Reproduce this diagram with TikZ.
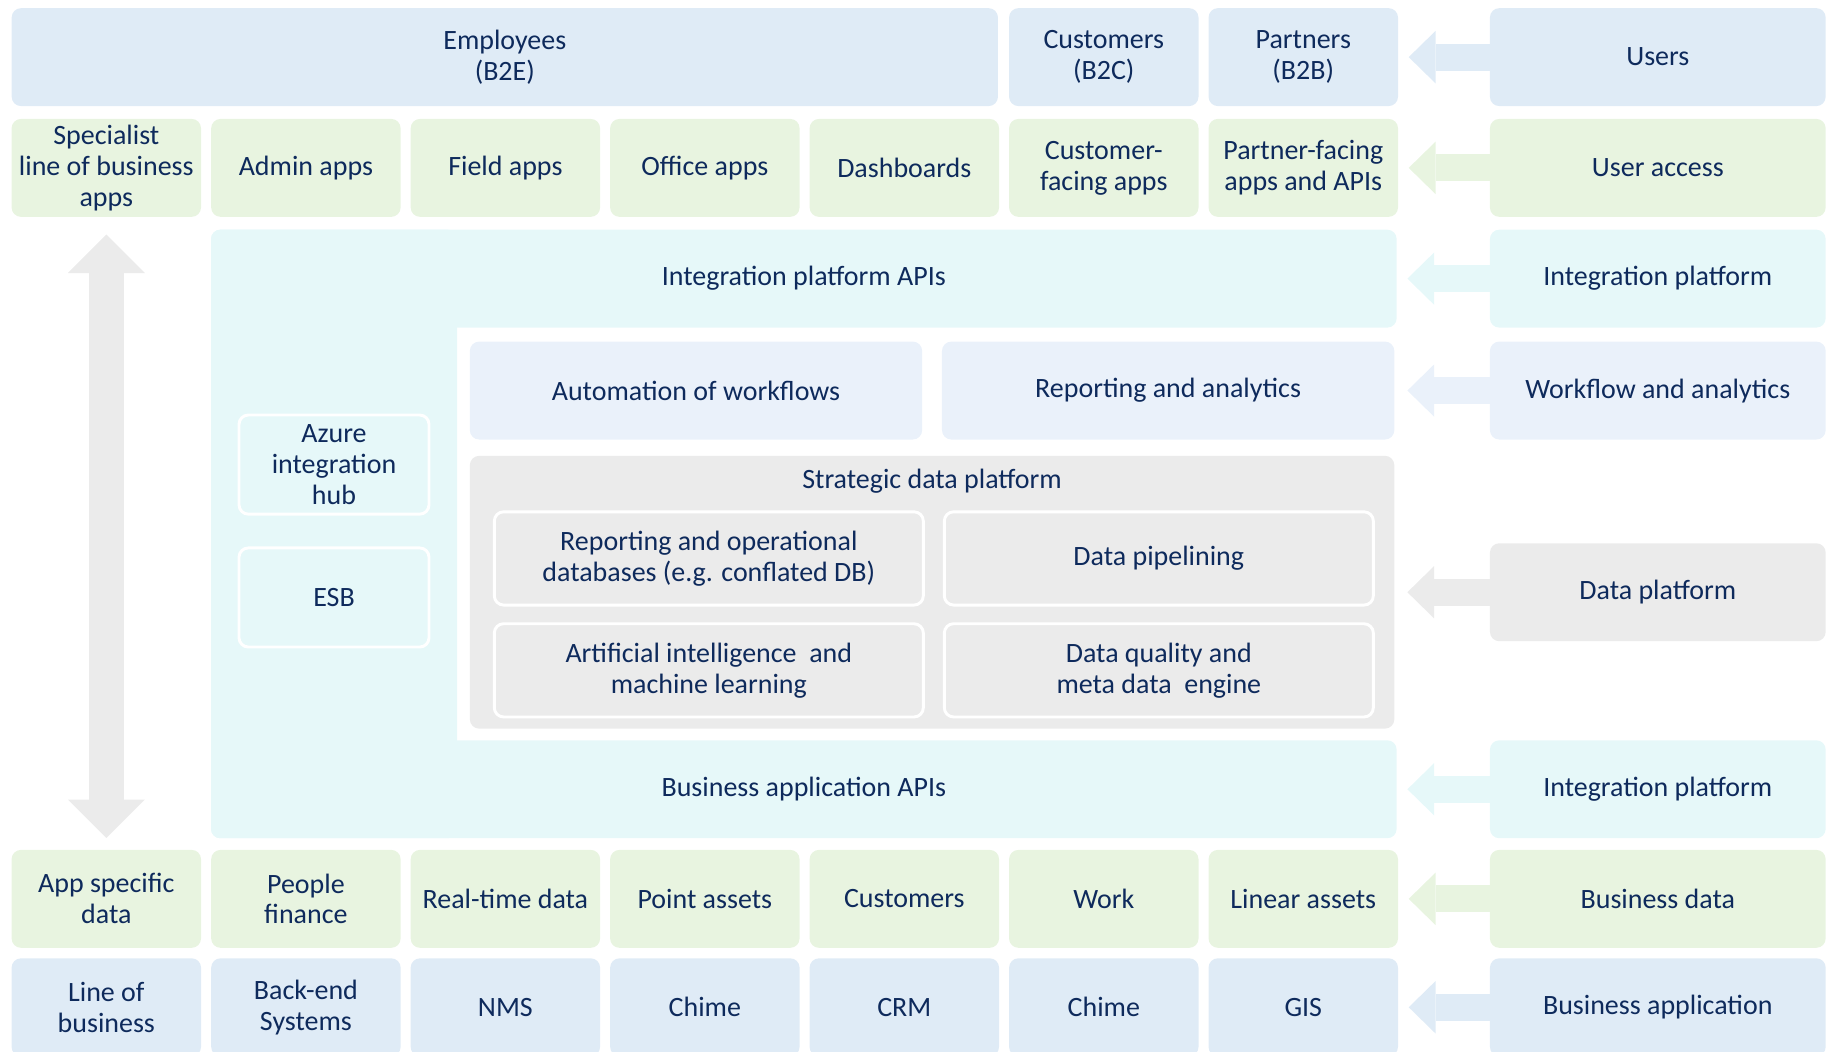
\documentclass[tikz,border=0pt]{standalone}
\usepackage{fontspec}
\setmainfont{Carlito}
\usepackage{tikz}
\usetikzlibrary{arrows.meta}

\definecolor{usrblue}{HTML}{DFEBF6}
\definecolor{accgreen}{HTML}{E8F4E0}
\definecolor{intcyan}{HTML}{E6F8F9}
\definecolor{wfblue}{HTML}{EAF1FA}
\definecolor{dpgrey}{HTML}{EBEBEB}
\definecolor{txtnavy}{HTML}{0E2A5C}

\tikzset{
  box/.style={rectangle, rounded corners=8pt, inner sep=0pt, align=center,
              text=txtnavy, font=\fontsize{24}{26.5}\selectfont},
  cell/.style={box, minimum width=162.5pt, minimum height=84pt},
  side/.style={box, minimum width=288pt, minimum height=84pt},
  inbox/.style={box, draw=white, line width=2.5pt},
}

\begin{document}
\begin{tikzpicture}[x=1pt,y=-1pt]
\useasboundingbox (0,0) rectangle (1568,902);
\clip (0,0) rectangle (1568,902);

% users
\begin{scope}[every node/.style={cell,fill=usrblue}]
    \node[minimum width=846pt] (emp) at (433,49) {Employees\\(B2E)};
    \node (cus) at (946.8,49) {Customers\\(B2C)};
    \node (prt) at (1117.9,49) {Partners\\(B2B)};
\end{scope}

% user access
\begin{scope}[every node/.style={cell,fill=accgreen}]
    \node (spec) at (91.2,144) {Specialist\\line of business\\apps};
    \node (admin) at (262.4,144) {Admin apps};
    \node (field) at (433.5,144) {Field apps};
    \node (office) at (604.6,144) {Office apps};
    \node (dash) at (775.7,144) {Dashboards};
    \node (cusapp) at (946.8,144) {Customer-\\facing apps};
    \node (prtapp) at (1117.9,144) {Partner-facing\\apps and APIs};
\end{scope}

% integration platform
\fill[intcyan,rounded corners=8pt] (181,197) rectangle (392,719);
\begin{scope}[every node/.style={box,fill=intcyan,minimum width=1017pt,minimum height=84pt}]
    \node (intapi) at (689.5,239) {Integration platform APIs};
    \node (bizapi) at (689.5,677) {Business application APIs};
\end{scope}
\begin{scope}[every node/.style={inbox,fill=intcyan,minimum width=163pt,minimum height=85pt}]
    \node (azure) at (286.5,398.5) {Azure\\integration\\hub};
    \node (esb) at (286.5,512.5) {ESB};
\end{scope}

% workflow and analytics
\begin{scope}[every node/.style={box,fill=wfblue,minimum width=388pt,minimum height=84pt}]
    \node (auto) at (597,335) {Automation of workflows};
    \node (rep) at (1002,335) {Reporting and analytics};
\end{scope}

% data platform
\node[box,fill=dpgrey,minimum width=793pt,minimum height=234pt] (sdp) at (799.5,508) {};
\node[box] (sdptitle) at (799.5,413) {Strategic data platform};
\begin{scope}[every node/.style={inbox,fill=dpgrey,minimum width=368pt,minimum height=80pt}]
    \node (repdb) at (608,479) {Reporting and operational\\databases (e.g. conflated DB)};
    \node (pipe) at (994,479) {Data pipelining};
    \node (aiml) at (608,575) {Artificial intelligence~ and\\machine learning};
    \node (dq) at (994,575) {Data quality and\\meta data~ engine};
\end{scope}

% business data
\begin{scope}[every node/.style={cell,fill=accgreen}]
    \node (appdata) at (91.2,771) {App specific\\data};
    \node (people) at (262.4,771) {People\\finance};
    \node (rtdata) at (433.5,771) {Real-time data};
    \node (point) at (604.6,771) {Point assets};
    \node (cusdata) at (775.7,771) {Customers};
    \node (work) at (946.8,771) {Work};
    \node (linear) at (1117.9,771) {Linear assets};
\end{scope}

% business applications
\begin{scope}[every node/.style={cell,fill=usrblue}]
    \node (lob) at (91.2,864) {Line of\\business};
    \node (backend) at (262.4,864) {Back-end\\Systems};
    \node (nms) at (433.5,864) {NMS};
    \node (chime) at (604.6,864) {Chime};
    \node (crm) at (775.7,864) {CRM};
    \node (chime2) at (946.8,864) {Chime};
    \node (gis) at (1117.9,864) {GIS};
\end{scope}

% layer names
\node[side,fill=usrblue] (users) at (1422,49) {Users};
\node[side,fill=accgreen] (access) at (1422,144) {User access};
\node[side,fill=intcyan] (intplat) at (1422,239) {Integration platform};
\node[side,fill=wfblue] (wfa) at (1422,335) {Workflow and analytics};
\node[side,fill=dpgrey] (dataplat) at (1422,508) {Data platform};
\node[side,fill=intcyan] (intplat2) at (1422,677) {Integration platform};
\node[side,fill=accgreen] (bizdata) at (1422,771) {Business data};
\node[side,fill=usrblue] (bizapp) at (1422,864) {Business application};

\begin{scope}[>={Triangle[width=45pt,length=23pt,line width=0pt]},
              every edge/.style={draw,line width=23pt,shorten >=9pt}]
    \path [->] (users) edge[draw=usrblue] (prt);
    \path [->] (access) edge[draw=accgreen] (prtapp);
    \path [->] (intplat) edge[draw=intcyan] (intapi);
    \path [->] (wfa) edge[draw=wfblue,shorten >=11pt] (rep);
    \path [->] (dataplat) edge[draw=dpgrey,shorten >=11pt] (sdp);
    \path [->] (intplat2) edge[draw=intcyan] (bizapi);
    \path [->] (bizdata) edge[draw=accgreen] (linear);
    \path [->] (bizapp) edge[draw=usrblue] (gis);
\end{scope}

\path [<->,>={Triangle[width=66pt,length=33pt,line width=0pt]}]
    (spec) edge[draw=dpgrey,line width=30pt,shorten <=15pt,shorten >=10pt] (appdata);
\end{tikzpicture}
\end{document}
